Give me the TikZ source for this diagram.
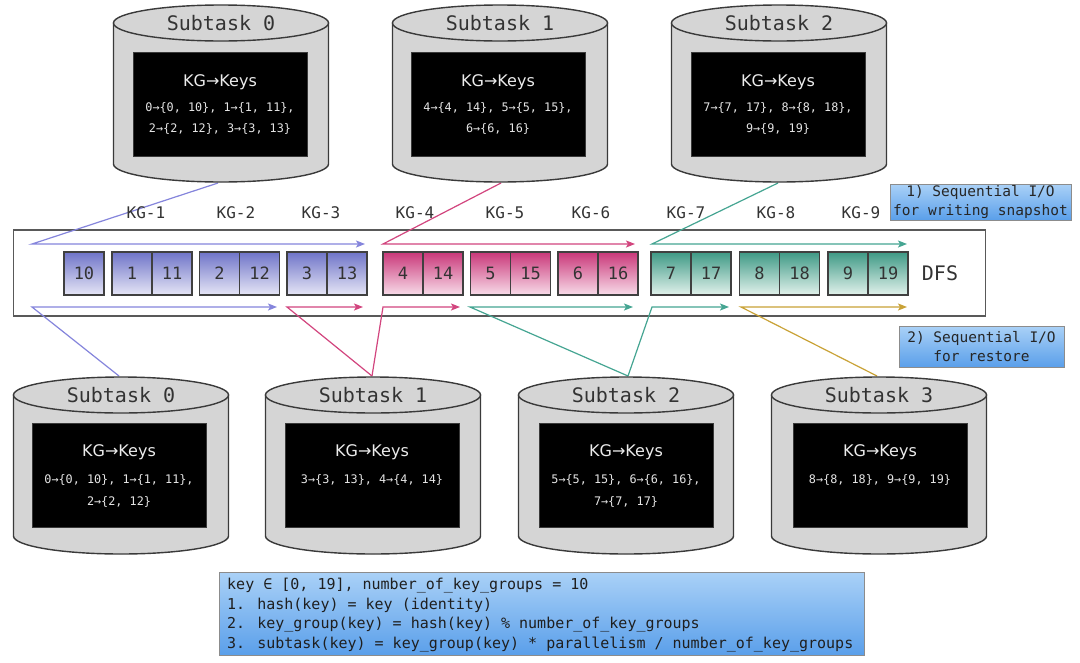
\documentclass[tikz,border=0pt]{standalone}
\usepackage{fontspec}
\setmainfont{DejaVu Sans}
\newfontfamily\monof{DejaVu Sans Mono}
\usetikzlibrary{arrows.meta}
\definecolor{cylfill}{HTML}{D5D5D5}
\definecolor{cylline}{HTML}{3A3A3A}
\definecolor{cblue}{HTML}{8585DC}
\definecolor{cpink}{HTML}{D2457E}
\definecolor{cteal}{HTML}{45A592}
\definecolor{cgold}{HTML}{C9A236}
\definecolor{bTop}{HTML}{6F74C8}
\definecolor{bBot}{HTML}{E6E6F6}
\definecolor{pTop}{HTML}{C93779}
\definecolor{pBot}{HTML}{F8DCE9}
\definecolor{tTop}{HTML}{3E9985}
\definecolor{tBot}{HTML}{E2F2EC}
\definecolor{lTop}{HTML}{AAD1F7}
\definecolor{lBot}{HTML}{5A9FEA}
\definecolor{txtgray}{HTML}{333333}
\tikzset{
  dbcyl/.pic={
    \path[fill=cylfill,draw=cylline,line width=1.4pt]
      (-107.5,0) -- (-107.5,141) arc[start angle=180,end angle=0,x radius=107.5,y radius=18] -- (107.5,0) -- cycle;
    \path[fill=cylfill,draw=cylline,line width=1.4pt] (0,0) ellipse[x radius=107.5,y radius=18];
  },
  cyltitle/.style={font=\monof\fontsize{20}{24}\selectfont,text=txtgray,inner sep=0pt},
  kgbox/.style={fill=black,draw=cylline,line width=0.8pt,minimum width=174,minimum height=104,inner sep=0pt},
  kgtitle/.style={font=\fontsize{16}{19}\selectfont,text=white!92!black,inner sep=0pt},
  kgline/.style={font=\monof\fontsize{11.8}{14}\selectfont,text=white!90!black,inner sep=0pt},
  kglab/.style={font=\monof\fontsize{16}{19}\selectfont,text=txtgray,inner sep=0pt},
  cellbase/.style={draw=black!75,line width=1.3pt,minimum width=40,minimum height=43,inner sep=0pt,
    font=\monof\fontsize{17}{20}\selectfont,text=txtgray},
  bcell/.style={cellbase,top color=bTop,bottom color=bBot},
  pcell/.style={cellbase,top color=pTop,bottom color=pBot},
  tcell/.style={cellbase,top color=tTop,bottom color=tBot},
  conn/.style={line width=1.2pt},
  arr/.style={conn,-{Stealth[length=9pt,width=7pt,inset=2pt]}},
  infobox/.style={draw=black!45,line width=0.8pt,top color=lTop,bottom color=lBot,inner sep=0pt,
    font=\monof\fontsize{14.5}{18.5}\selectfont,text=black!85,align=center},
  ftext/.style={font=\monof\fontsize{15}{18}\selectfont,text=black!88,inner sep=0pt,anchor=base west}
}
\begin{document}
\begin{tikzpicture}[x=1pt,y=-1pt]
\useasboundingbox[fill=white] (0,0) rectangle (1080,662);

% DFS box
\node[draw=black!65,line width=1.6pt,fill=white,minimum width=972,minimum height=86,inner sep=0pt] (dfs) at (499.5,273) {};
\node[font=\monof\fontsize{20}{24}\selectfont,text=txtgray,inner sep=0pt] (dfslab) at (940,273) {DFS};

% connection coordinates
\coordinate (tc0) at (218,183);
\coordinate (tc1) at (501,183);
\coordinate (tc2) at (778,183);
\coordinate (bc0) at (119,376);
\coordinate (bc1) at (372,376);
\coordinate (bc2) at (628,376);
\coordinate (bc3) at (877,376);
\coordinate (wb0) at (32,244);  \coordinate (wb1) at (365,244);
\coordinate (wp0) at (383,244); \coordinate (wp1) at (635,244);
\coordinate (wt0) at (652,244); \coordinate (wt1) at (907,244);
\coordinate (rb0) at (32,307);  \coordinate (rb1) at (277,307);
\coordinate (rp0) at (287,307); \coordinate (rp1) at (363,307);
\coordinate (rq0) at (383,307); \coordinate (rq1) at (460,307);
\coordinate (rt0) at (470,307); \coordinate (rt1) at (633,307);
\coordinate (ru0) at (652,307); \coordinate (ru1) at (729,307);
\coordinate (rg0) at (741,307); \coordinate (rg1) at (907,307);

% connectors (write)
\draw[arr,cblue] (tc0) -- (wb0) -- (wb1);
\draw[arr,cpink] (tc1) -- (wp0) -- (wp1);
\draw[arr,cteal] (tc2) -- (wt0) -- (wt1);
% connectors (restore)
\draw[arr,cblue] (bc0) -- (rb0) -- (rb1);
\draw[arr,cpink] (bc1) -- (rp0) -- (rp1);
\draw[arr,cpink] (bc1) -- (rq0) -- (rq1);
\draw[arr,cteal] (bc2) -- (rt0) -- (rt1);
\draw[arr,cteal] (bc2) -- (ru0) -- (ru1);
\draw[arr,cgold] (bc3) -- (rg0) -- (rg1);

% cells
\node[bcell] (c10) at (84,273.5) {10};
\node[bcell] (c1) at (132,273.5) {1};   \node[bcell] (c11) at (172,273.5) {11};
\node[bcell] (c2) at (219.5,273.5) {2}; \node[bcell] (c12) at (259.5,273.5) {12};
\node[bcell] (c3) at (307,273.5) {3};   \node[bcell] (c13) at (347,273.5) {13};
\node[pcell] (c4) at (403,273.5) {4};   \node[pcell] (c14) at (443,273.5) {14};
\node[pcell] (c5) at (490.5,273.5) {5}; \node[pcell] (c15) at (530.5,273.5) {15};
\node[pcell] (c6) at (578,273.5) {6};   \node[pcell] (c16) at (618,273.5) {16};
\node[tcell] (c7) at (671,273.5) {7};   \node[tcell] (c17) at (711,273.5) {17};
\node[tcell] (c8) at (759.5,273.5) {8}; \node[tcell] (c18) at (799.5,273.5) {18};
\node[tcell] (c9) at (848,273.5) {9};   \node[tcell] (c19) at (888,273.5) {19};

% KG labels
\node[kglab] (kg1) at (146,213) {KG-1};
\node[kglab] (kg2) at (236,213) {KG-2};
\node[kglab] (kg3) at (321,213) {KG-3};
\node[kglab] (kg4) at (415,213) {KG-4};
\node[kglab] (kg5) at (505,213) {KG-5};
\node[kglab] (kg6) at (591,213) {KG-6};
\node[kglab] (kg7) at (686,213) {KG-7};
\node[kglab] (kg8) at (776,213) {KG-8};
\node[kglab] (kg9) at (861,213) {KG-9};

% top cylinders
\pic at (221,23) {dbcyl};
\pic at (500,23) {dbcyl};
\pic at (779,23) {dbcyl};
\node[cyltitle] (ts0) at (221,23) {Subtask 0};
\node[cyltitle] (ts1) at (500,23) {Subtask 1};
\node[cyltitle] (ts2) at (779,23) {Subtask 2};
\node[kgbox] (tb0) at (220,104.5) {};
\node[kgbox] (tb1) at (498,104.5) {};
\node[kgbox] (tb2) at (778,104.5) {};
\node[kgtitle] (tk0) at (220,82) {KG→Keys};
\node[kgtitle] (tk1) at (498,82) {KG→Keys};
\node[kgtitle] (tk2) at (778,82) {KG→Keys};
\node[kgline] (tl0a) at (220,108) {0→\{0, 10\}, 1→\{1, 11\},};
\node[kgline] (tl0b) at (220,129) {2→\{2, 12\}, 3→\{3, 13\}};
\node[kgline] (tl1a) at (498,108) {4→\{4, 14\}, 5→\{5, 15\},};
\node[kgline] (tl1b) at (498,129) {6→\{6, 16\}};
\node[kgline] (tl2a) at (778,108) {7→\{7, 17\}, 8→\{8, 18\},};
\node[kgline] (tl2b) at (778,129) {9→\{9, 19\}};

% bottom cylinders
\pic at (121,395) {dbcyl};
\pic at (373,395) {dbcyl};
\pic at (626,395) {dbcyl};
\pic at (879,395) {dbcyl};
\node[cyltitle] (bs0) at (121,395) {Subtask 0};
\node[cyltitle] (bs1) at (373,395) {Subtask 1};
\node[cyltitle] (bs2) at (626,395) {Subtask 2};
\node[cyltitle] (bs3) at (879,395) {Subtask 3};
\node[kgbox] (bb0) at (119,475) {};
\node[kgbox] (bb1) at (372,475) {};
\node[kgbox] (bb2) at (626,475) {};
\node[kgbox] (bb3) at (880,475) {};
\node[kgtitle] (bk0) at (119,452) {KG→Keys};
\node[kgtitle] (bk1) at (372,452) {KG→Keys};
\node[kgtitle] (bk2) at (626,452) {KG→Keys};
\node[kgtitle] (bk3) at (880,452) {KG→Keys};
\node[kgline] (bl0a) at (119,480) {0→\{0, 10\}, 1→\{1, 11\},};
\node[kgline] (bl0b) at (119,502) {2→\{2, 12\}};
\node[kgline] (bl1a) at (372,480) {3→\{3, 13\}, 4→\{4, 14\}};
\node[kgline] (bl2a) at (626,480) {5→\{5, 15\}, 6→\{6, 16\},};
\node[kgline] (bl2b) at (626,502) {7→\{7, 17\}};
\node[kgline] (bl3a) at (880,480) {8→\{8, 18\}, 9→\{9, 19\}};

% info boxes
\node[infobox,minimum width=181,minimum height=36] (info1) at (980.5,202) {1) Sequential I/O\\for writing snapshot};
\node[infobox,minimum width=165,minimum height=41] (info2) at (981.5,346.5) {2) Sequential I/O\\for restore};

% formula box
\node[draw=black!45,line width=0.8pt,top color=lTop,bottom color=lBot,minimum width=645,minimum height=83,inner sep=0pt] (fbox) at (541.5,613.5) {};
\node[ftext] (f0) at (227,589.5) {key ∈ [0, 19], number\_of\_key\_groups = 10};
\node[ftext] (f1) at (227,609) {1. hash(key) = key (identity)};
\node[ftext] (f2) at (227,628.5) {2. key\_group(key) = hash(key) \% number\_of\_key\_groups};
\node[ftext] (f3) at (227,648) {3. subtask(key) = key\_group(key) * parallelism / number\_of\_key\_groups};
\end{tikzpicture}
\end{document}
